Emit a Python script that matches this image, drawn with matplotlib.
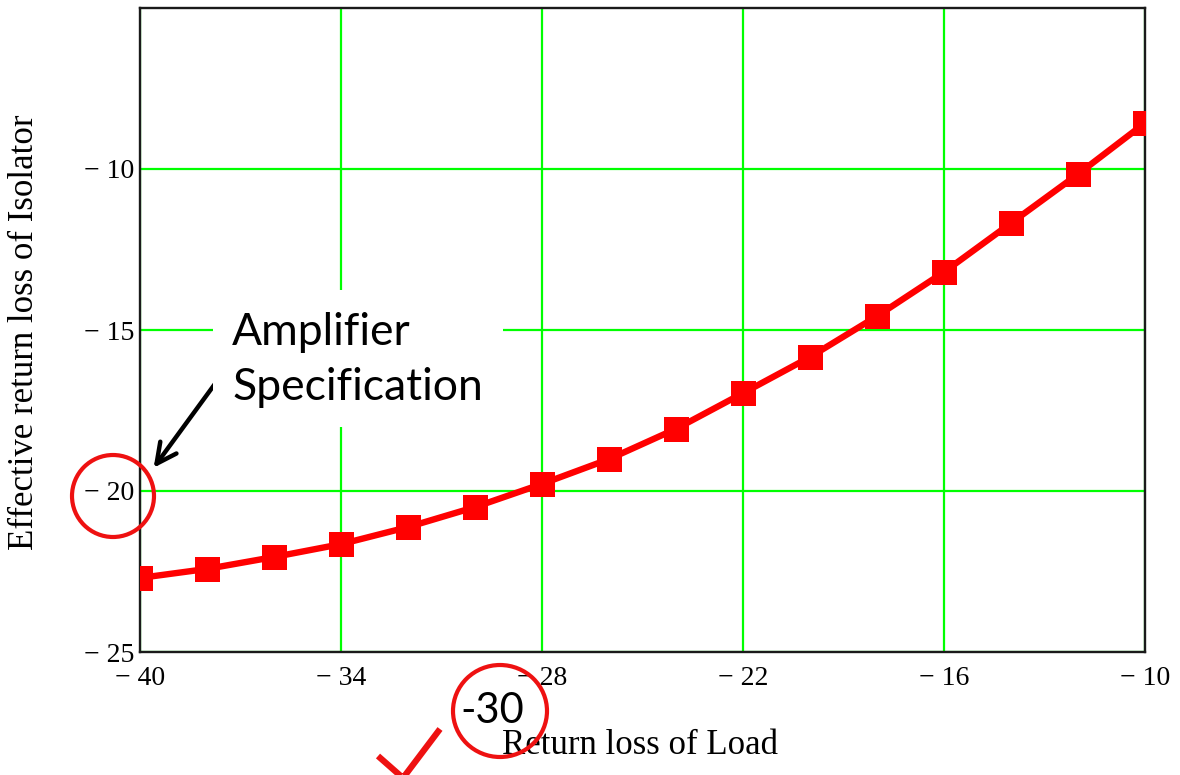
import matplotlib
matplotlib.use('Agg')
import matplotlib.pyplot as plt
import matplotlib.patches as mpatches

W, H = 1180, 775

# return loss of load (dB) and effective return loss of isolator (dB)
load_rl = [-40, -38, -36, -34, -32, -30, -28, -26, -24, -22, -20, -18, -16, -14, -12, -10]
eff_rl = [-22.70, -22.42, -22.05, -21.65, -21.12, -20.50, -19.78, -19.01,
          -18.07, -16.96, -15.84, -14.57, -13.20, -11.68, -10.16, -8.57]

x_ticks = [-40, -34, -28, -22, -16, -10]
y_ticks = [-25, -20, -15, -10]
x_ticklabels = ['\u2212 40', '\u2212 34', '\u2212 28', '\u2212 22', '\u2212 16', '\u2212 10']
y_ticklabels = ['\u2212 25', '\u2212 20', '\u2212 15', '\u2212 10']


def fx(x):
    return x / W


def fy(y):
    return 1 - y / H


fig = plt.figure(figsize=(W / 100, H / 100), dpi=100)
ax = fig.add_axes([fx(140), fy(652), (1145 - 140) / W, (652 - 8) / H])

ax.set_xlim(-40, -10)
ax.set_ylim(-25, -5)
ax.set_xticks(x_ticks)
ax.set_xticklabels(x_ticklabels)
ax.set_yticks(y_ticks)
ax.set_yticklabels(y_ticklabels)
ax.tick_params(length=0, labelsize=20, pad=4)
ax.tick_params(axis='x', pad=10)
for lab in ax.get_xticklabels() + ax.get_yticklabels():
    lab.set_family('Liberation Serif')

ax.grid(True, color='#00ff00', linewidth=1.6)
ax.set_axisbelow(True)
for sp in ax.spines.values():
    sp.set_color('#1a1a1a')
    sp.set_linewidth(1.7)

ax.plot(load_rl, eff_rl, color='#ff0000', linewidth=4.6, marker='s',
        markersize=18, markeredgewidth=0, zorder=3)

# axis titles
fig.text(fx(640), fy(745), 'Return loss of Load', family='Liberation Serif',
         fontsize=25, ha='center', va='center')
fig.text(fx(25), fy(332), 'Effective return loss of Isolator', family='Liberation Serif',
         fontsize=25, ha='center', va='center', rotation=90)

# annotation box covering the grid
box = mpatches.Rectangle((fx(213), fy(427)), (503 - 213) / W, (427 - 290) / H,
                         transform=fig.transFigure, facecolor='white',
                         edgecolor='none', zorder=4)
fig.add_artist(box)
fig.text(fx(232), fy(345), 'Amplifier', family='Lato', fontsize=32,
         va='baseline', ha='left', zorder=5)
fig.text(fx(232), fy(400), 'Specification', family='Lato', fontsize=32,
         va='baseline', ha='left', zorder=5)

ax.annotate('', xy=(fx(152), fy(470)), xycoords='figure fraction',
            xytext=(fx(228), fy(366)), textcoords='figure fraction',
            arrowprops=dict(arrowstyle='->', color='black', lw=3.2,
                            mutation_scale=36), zorder=5)

# red circles
fig.add_artist(mpatches.Ellipse((fx(113), fy(496)), 82 / W, 82 / H,
                                transform=fig.transFigure, fill=False,
                                edgecolor='#ee1111', linewidth=3, zorder=6))
fig.add_artist(mpatches.Ellipse((fx(500), fy(711)), 94 / W, 92 / H,
                                transform=fig.transFigure, fill=False,
                                edgecolor='#ee1111', linewidth=3, zorder=6))
fig.text(fx(460), fy(723), '-30', family='Lato', fontsize=30,
         va='baseline', ha='left', zorder=5)

# check mark
fig.add_artist(plt.Line2D([fx(378), fx(403), fx(440)], [fy(756), fy(778), fy(729)],
                          transform=fig.transFigure, color='#ee1111',
                          linewidth=4.5, solid_capstyle='butt'))

fig.savefig('out.png', dpi=100)
